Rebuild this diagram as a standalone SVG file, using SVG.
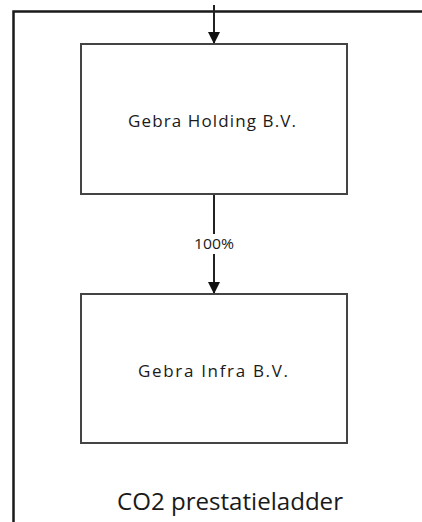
<svg xmlns="http://www.w3.org/2000/svg" width="422" height="522" viewBox="0 0 422 522">
<defs>
<style>
.box{fill:#fff;stroke:#444;stroke-width:2}
.lbl{font-family:"Open Sans","DejaVu Sans",sans-serif;fill:#1a1a1a;text-anchor:middle}
.edge{stroke:#222;stroke-width:2;fill:none}
</style>
<marker id="ah" viewBox="0 0 12 12" refX="12" refY="6" markerWidth="12" markerHeight="12" markerUnits="userSpaceOnUse" orient="auto">
<path d="M0,0 L12,6 L0,12 Z" fill="#111"/>
</marker>
</defs>
<rect width="422" height="522" fill="#fff"/>
<g id="frame">
<path d="M13.5,522 V11.5 H422" fill="none" stroke="#1a1a1a" stroke-width="2.5"/>
<text class="lbl" x="230" y="510" font-size="24" textLength="226" lengthAdjust="spacingAndGlyphs">CO2 prestatieladder</text>
</g>
<g id="connectors">
<line class="edge" x1="214" y1="5" x2="214" y2="44" marker-end="url(#ah)"/>
<line class="edge" x1="214" y1="195" x2="214" y2="294" marker-end="url(#ah)"/>
<rect x="192" y="234" width="44" height="20" fill="#fff"/>
<text class="lbl" x="214" y="249" font-size="14" textLength="40" lengthAdjust="spacingAndGlyphs">100%</text>
</g>
<g id="holding">
<rect class="box" x="81" y="44" width="266" height="150"/>
<text class="lbl" x="212" y="127" font-size="17" textLength="168" lengthAdjust="spacing">Gebra Holding B.V.</text>
</g>
<g id="infra">
<rect class="box" x="81" y="294" width="266" height="149"/>
<text class="lbl" x="213" y="377" font-size="17" textLength="150" lengthAdjust="spacing">Gebra Infra B.V.</text>
</g>
</svg>
